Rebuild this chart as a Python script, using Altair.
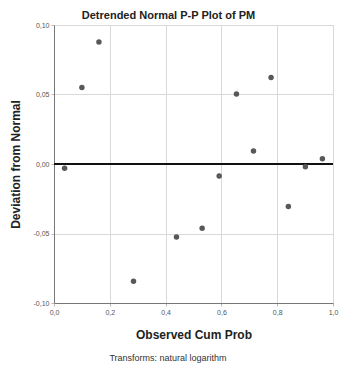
import altair as alt
import pandas as pd

obs_cum_prob = [0.038, 0.100, 0.161, 0.285, 0.439, 0.531, 0.592, 0.654, 0.715, 0.778, 0.840, 0.901, 0.962]
deviation = [-0.0031, 0.0550, 0.0878, -0.0844, -0.0525, -0.0462, -0.0087, 0.0503, 0.0094, 0.0623, -0.0305, -0.0019, 0.0038]
x_ticks = [0.0, 0.2, 0.4, 0.6, 0.8, 1.0]
y_ticks = [-0.10, -0.05, 0.0, 0.05, 0.10]
footnote = ["Transforms: natural logarithm"]

df = pd.DataFrame({"x": obs_cum_prob, "y": deviation})
FONT = "Liberation Sans"

xscale = alt.Scale(domain=[0, 1], nice=False, zero=False)
yscale = alt.Scale(domain=[-0.10, 0.10], nice=False, zero=False)

points = alt.Chart(df).mark_circle(size=30, color="#585858", opacity=1).encode(
    x=alt.X("x:Q", scale=xscale,
            axis=alt.Axis(title="Observed Cum Prob", values=x_ticks,
                          labelExpr="replace(format(datum.value, '.1f'), '.', ',')",
                          grid=True, gridColor="#d9d9d9", domainColor="#777777",
                          ticks=True, tickSize=3, tickColor="#bbbbbb", labelFlush=False,
                          labelPadding=2, labelFontSize=7, labelColor="#555555",
                          titleFontSize=12, titleFontWeight="bold", titlePadding=14,
                          titleColor="#222222", labelFont=FONT, titleFont=FONT)),
    y=alt.Y("y:Q", scale=yscale,
            axis=alt.Axis(title="Deviation from Normal", values=y_ticks,
                          labelExpr="replace(replace(format(datum.value, '.2f'), '.', ','), '\u2212', '-')",
                          grid=True, gridColor="#d9d9d9", domainColor="#777777",
                          ticks=True, tickSize=3, tickColor="#bbbbbb", labelFlush=False,
                          labelPadding=2, labelFontSize=7, labelColor="#555555",
                          titleFontSize=12, titleFontWeight="bold", titlePadding=11,
                          titleColor="#222222", labelFont=FONT, titleFont=FONT)),
)

zero_line = alt.Chart(pd.DataFrame({"y": [0.0]})).mark_rule(color="#111111", strokeWidth=2.2).encode(
    y=alt.Y("y:Q", scale=yscale)
)

note = alt.Chart(pd.DataFrame({"t": footnote})).mark_text(
    font=FONT, fontSize=9, color="#333333", align="center", baseline="middle"
).encode(text="t:N", x=alt.value(114), y=alt.value(333))

chart = alt.layer(zero_line, points, note).properties(
    width=279, height=278,
    autosize=alt.AutoSizeParams(type="none"),
    padding={"left": 54, "top": 25, "right": 7, "bottom": 68},
    title=alt.TitleParams("Detrended Normal P-P Plot of PM", fontSize=11, fontWeight="bold",
                          font=FONT, color="#222222", dx=-25, offset=0),
).configure_view(stroke="#d9d9d9", strokeWidth=1).configure(background="white")

chart.save("out.html", embed_options={"renderer": "svg", "actions": False})
